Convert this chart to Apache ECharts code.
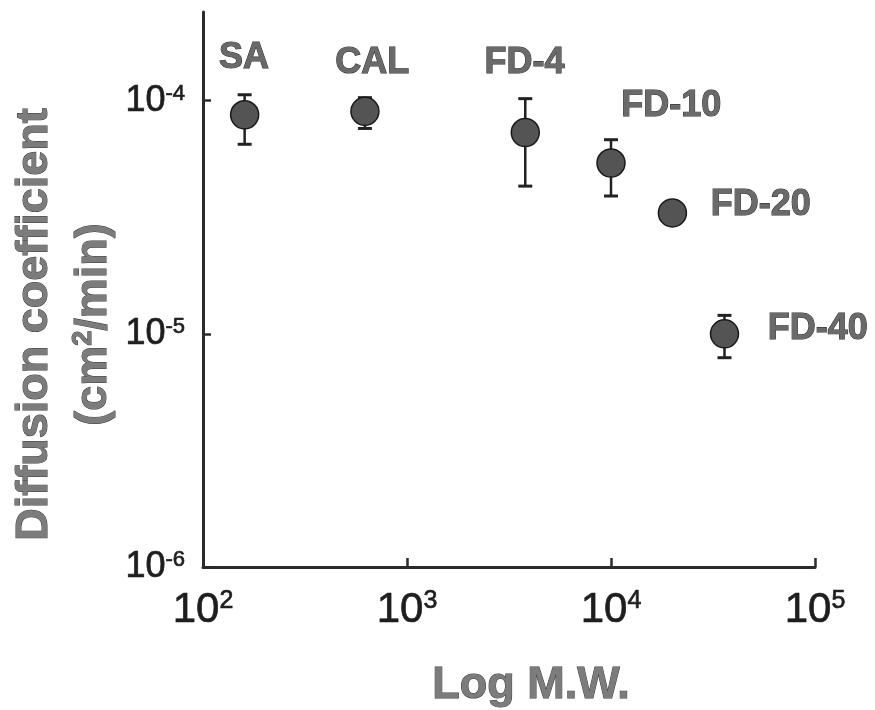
<!DOCTYPE html>
<html>
<head>
<meta charset="utf-8">
<title>Diffusion coefficient vs molecular weight</title>
<script src="https://cdn.jsdelivr.net/npm/echarts@6/dist/echarts.min.js"></script>
<style>
  html, body { margin: 0; padding: 0; background: #ffffff; }
  #chart { width: 875px; height: 710px; }
</style>
</head>
<body>
<div id="chart"></div>
<script>
// Probe molecules and their measured diffusion coefficients (cm^2/min)
const compounds = ['SA', 'CAL', 'FD-4', 'FD-10', 'FD-20', 'FD-40'];
const molWeight = [160, 622, 3800, 10000, 20000, 36000];
const diffusion = [8.7e-5, 9.0e-5, 7.3e-5, 5.4e-5, 3.3e-5, 1.0e-5];
const errLower  = [6.5e-5, 7.6e-5, 4.3e-5, 3.9e-5, null, 7.9e-6];
const errUpper  = [1.06e-4, 1.03e-4, 1.02e-4, 6.8e-5, null, 1.2e-5];

// Decade tick exponents on each axis
const xExponents = [2, 3, 4, 5];
const yExponents = [-6, -5, -4];
const yTop = 2.4e-4;

const FONT = '"Liberation Sans", Arial, Helvetica, sans-serif';
const lg = Math.log10;

// Where each compound's name sits relative to its marker
const labelPlacement = {
  'SA':    { dx: 0,  dy: -56, align: 'center' },
  'CAL':   { dx: 8,  dy: -47, align: 'center' },
  'FD-4':  { dx: 0,  dy: -69, align: 'center' },
  'FD-10': { dx: 11, dy: -56, align: 'left' },
  'FD-20': { dx: 39, dy: -7,  align: 'left' },
  'FD-40': { dx: 44, dy: -4,  align: 'left' }
};

const SYMBOL = 28;
const pointData = compounds.map((name, i) => {
  const p = labelPlacement[name];
  return {
    name: name,
    value: [lg(molWeight[i]), lg(diffusion[i])],
    label: {
      position: [SYMBOL / 2 + p.dx, SYMBOL / 2 + p.dy],
      align: p.align,
      verticalAlign: 'middle'
    }
  };
});

const errorData = [];
compounds.forEach((name, i) => {
  if (errLower[i] != null && errUpper[i] != null) {
    errorData.push([lg(molWeight[i]), lg(errLower[i]), lg(errUpper[i])]);
  }
});

const titleStyle = {
  fontFamily: FONT,
  fontWeight: 'bold',
  color: '#7c7c7c',
  textBorderColor: '#3a3a3a',
  textBorderWidth: 1
};

// tick label text: plain digits with a slight ink spread
const tickInk = { fontFamily: FONT, color: '#1e1e1e', textBorderColor: '#1e1e1e', textBorderWidth: 0.7 };

const chart = echarts.init(document.getElementById('chart'), null, { renderer: 'canvas' });

chart.setOption({
  animation: false,
  backgroundColor: '#ffffff',
  grid: {
    left: 203, right: 60, top: 12, bottom: 143,
    containLabel: false,
    outerBoundsMode: 'none'
  },
  xAxis: {
    type: 'value',
    min: xExponents[0],
    max: xExponents[xExponents.length - 1],
    interval: 1,
    splitLine: { show: false },
    axisLine: { show: true, onZero: false, lineStyle: { color: '#2b2b2b', width: 3 } },
    axisTick: { show: true, inside: true, length: 9, lineStyle: { color: '#2b2b2b', width: 2.5 } },
    axisLabel: {
      margin: 22,
      formatter: v => '{b|10}{s|' + v + '}',
      rich: {
        b: Object.assign({ fontSize: 42, lineHeight: 42 }, tickInk),
        s: Object.assign({ fontSize: 25, lineHeight: 25, verticalAlign: 'top' }, tickInk)
      }
    },
    name: 'Log M.W.',
    nameLocation: 'middle',
    nameGap: 96,
    nameMoveOverlap: false,
    nameTextStyle: Object.assign({ fontSize: 45, lineHeight: 45, padding: [0, 0, 0, 44] }, titleStyle)
  },
  yAxis: {
    type: 'value',
    min: yExponents[0],
    max: lg(yTop),
    interval: 1,
    splitLine: { show: false },
    axisLine: { show: true, onZero: false, lineStyle: { color: '#2b2b2b', width: 3 } },
    axisTick: {
      show: true, inside: true, length: 8,
      customValues: yExponents,
      lineStyle: { color: '#2b2b2b', width: 2.5 }
    },
    axisLabel: {
      margin: 18,
      customValues: yExponents,
      formatter: v => '{b|10}{s|' + v + '}',
      rich: {
        b: Object.assign({ fontSize: 36, lineHeight: 36 }, tickInk),
        s: Object.assign({ fontSize: 22, lineHeight: 22, verticalAlign: 'top' }, tickInk)
      }
    },
    name: '{a|Diffusion coefficient}\n{a|(cm}{sup|2}{a|/min)}',
    nameLocation: 'middle',
    nameGap: 80,
    nameMoveOverlap: false,
    nameTextStyle: {
      padding: [0, 70, 0, 0],
      rich: {
        a: Object.assign({ fontSize: 45, lineHeight: 59 }, titleStyle),
        sup: Object.assign({ fontSize: 27, lineHeight: 59, verticalAlign: 'top', padding: [6, 0, 0, 0] }, titleStyle)
      }
    }
  },
  series: [
    {
      // vertical error bars with end caps
      type: 'custom',
      z: 2,
      silent: true,
      data: errorData,
      encode: { x: 0, y: [1, 2] },
      renderItem: function (params, api) {
        const x = api.value(0);
        const lo = api.coord([x, api.value(1)]);
        const hi = api.coord([x, api.value(2)]);
        const cap = 7;
        return {
          type: 'group',
          children: [
            { type: 'line', shape: { x1: lo[0], y1: lo[1], x2: hi[0], y2: hi[1] }, style: { stroke: '#222222', lineWidth: 2.5 } },
            { type: 'line', shape: { x1: hi[0] - cap, y1: hi[1], x2: hi[0] + cap, y2: hi[1] }, style: { stroke: '#222222', lineWidth: 3 } },
            { type: 'line', shape: { x1: lo[0] - cap, y1: lo[1], x2: lo[0] + cap, y2: lo[1] }, style: { stroke: '#222222', lineWidth: 3 } }
          ]
        };
      }
    },
    {
      type: 'scatter',
      z: 3,
      symbol: 'circle',
      symbolSize: SYMBOL,
      silent: true,
      itemStyle: { color: '#545454', borderColor: '#1a1a1a', borderWidth: 1.5, opacity: 1 },
      label: {
        show: true,
        formatter: p => p.name,
        fontFamily: FONT,
        fontWeight: 'bold',
        fontSize: 36,
        color: '#6a6a6a',
        textBorderColor: '#2e2e2e',
        textBorderWidth: 1
      },
      emphasis: { disabled: true },
      data: pointData
    }
  ]
});
</script>
</body>
</html>
